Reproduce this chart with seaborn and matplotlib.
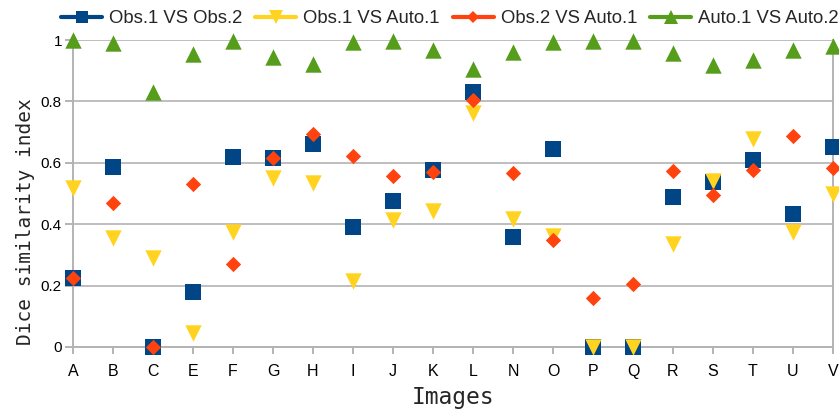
import matplotlib
matplotlib.use("Agg")
import matplotlib.pyplot as plt
from matplotlib.lines import Line2D
import seaborn as sns
import pandas as pd

images = ["A", "B", "C", "E", "F", "G", "H", "I", "J", "K",
          "L", "N", "O", "P", "Q", "R", "S", "T", "U", "V"]

obs1_obs2 = [0.224, 0.587, 0.0, 0.18, 0.62, 0.617, 0.661, 0.392, 0.476, 0.576,
             0.83, 0.357, 0.644, 0.0, 0.0, 0.49, 0.538, 0.609, 0.432, 0.65]
obs1_auto1 = [0.517, 0.355, 0.29, 0.045, 0.374, 0.549, 0.533, 0.216, 0.414, 0.444,
              0.761, 0.417, 0.36, 0.0, 0.0, 0.336, 0.54, 0.679, 0.373, 0.498]
obs2_auto1 = [0.224, 0.47, 0.0, 0.53, 0.271, 0.617, 0.693, 0.622, 0.557, 0.569,
              0.804, 0.566, 0.347, 0.16, 0.205, 0.574, 0.495, 0.576, 0.688, 0.584]
auto1_auto2 = [1.0, 0.99, 0.83, 0.953, 0.996, 0.944, 0.923, 0.993, 0.996, 0.966,
               0.904, 0.96, 0.993, 0.996, 0.996, 0.958, 0.92, 0.936, 0.966, 0.982]

series_names = ["Obs.1 VS Obs.2", "Obs.1 VS Auto.1", "Obs.2 VS Auto.1", "Auto.1 VS Auto.2"]
series_values = [obs1_obs2, obs1_auto1, obs2_auto1, auto1_auto2]
colors = ["#004586", "#ffd320", "#ff420e", "#579d1c"]
markers = ["s", "v", "D", "^"]
msizes = [11.4, 11.8, 7.8, 11.8]  # points

df = pd.concat(
    [pd.DataFrame({"Images": images, "Dice": vals, "Series": name})
     for name, vals in zip(series_names, series_values)],
    ignore_index=True,
)

sns.set_theme(style="white")
plt.rcParams["font.family"] = ["Liberation Sans", "DejaVu Sans"]

fig = plt.figure(figsize=(8.39, 4.09), dpi=100)
ax = fig.add_axes([73 / 839, 1 - 347 / 409, 760 / 839, 307 / 409])

grid_c = "#b3b3b3"
# draw order: blue, red, yellow, green
for idx in [0, 2, 1, 3]:
    sub = df[df["Series"] == series_names[idx]]
    sns.scatterplot(data=sub, x="Images", y="Dice", ax=ax, marker=markers[idx],
                    color=colors[idx], s=msizes[idx] ** 2, linewidth=0,
                    clip_on=False, zorder=3 + idx, legend=False)

ax.set_xlim(0, len(images) - 1)
ax.set_ylim(0, 1)
ax.set_yticks([0, 0.2, 0.4, 0.6, 0.8, 1.0])
ax.set_yticklabels(["0", "0.2", "0.4", "0.6", "0.8", "1"])
ax.yaxis.grid(True, color=grid_c, linewidth=1.2)
ax.xaxis.grid(False)
ax.set_axisbelow(True)

for side in ["left", "right", "bottom"]:
    ax.spines[side].set_visible(True)
    ax.spines[side].set_color(grid_c)
    ax.spines[side].set_linewidth(1.4)
ax.spines["top"].set_visible(False)

ax.tick_params(axis="x", which="both", bottom=True, length=5, width=1.4,
               color=grid_c, labelsize=11.5, pad=7, labelcolor="#000000")
ax.tick_params(axis="y", which="both", left=True, length=6, width=1.4,
               color=grid_c, labelsize=11, pad=2, labelcolor="#000000")

ax.set_xlabel("Images", family="DejaVu Sans Mono", fontsize=16.5, labelpad=5)
ax.set_ylabel("Dice similarity index", family="DejaVu Sans Mono", fontsize=14)
ax.yaxis.set_label_coords(-0.05, 0.41)

handles = [Line2D([0], [0], color=c, marker=m, markersize=ms * 0.8, linewidth=3,
                  markeredgewidth=0)
           for c, m, ms in zip(colors, markers, msizes)]
ax.legend(handles, series_names, loc="center", bbox_to_anchor=(0.496, 1.07),
          ncol=4, frameon=False, fontsize=13.3, handlelength=2.2,
          handletextpad=0.4, columnspacing=0.7, borderaxespad=0)

fig.savefig("out.png", dpi=100)
